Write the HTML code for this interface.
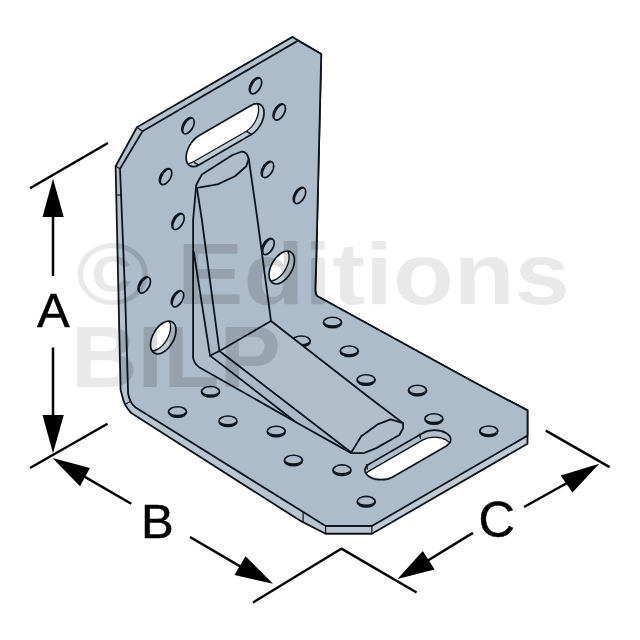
<!DOCTYPE html>
<html><head><meta charset="utf-8"><title>Angle bracket</title>
<style>
html,body{margin:0;padding:0;background:#fff;}
body{width:640px;height:640px;overflow:hidden;font-family:"Liberation Sans",sans-serif;}
svg{display:block;}
</style></head><body>
<svg width="640" height="640" viewBox="0 0 640 640">
<rect width="640" height="640" fill="#fff"/>
<defs>
<clipPath id="cb0"><circle r="14.7" transform="matrix(0.866 -0.5 0 1 163.25 337.5)"/></clipPath>
<clipPath id="cb1"><circle r="14.7" transform="matrix(0.866 -0.5 0 1 281.75 267.5)"/></clipPath>
<clipPath id="cs0"><rect x="-14.6" y="-14.6" width="89.9" height="29.2" rx="14.6" ry="14.6" transform="matrix(0.866 -0.5 0 1 198.8 150.3)" /></clipPath>
<clipPath id="cs1"><rect x="-13.3" y="-13.3" width="88.1" height="26.6" rx="13.3" ry="13.3" transform="matrix(0.866 -0.5 0.866 0.5 381.2 470.3)" /></clipPath>
<clipPath id="csil"><path d="M136.9,127.25 L292.5,36.9 L321.25,54 L316.25,260 L315.4,287.5 Q315,294 317.5,296.25 L470,380 L527.5,410.4 L527.5,443.75 L371.9,533.75 L325.6,533.75 L300,520.6 L131.25,413.1 Q127,408.5 125,404.4 Q123,400 122.3,396.25 L120.6,390 L115.6,166.25 Z"/></clipPath>
</defs>
<g id="bracket">
<path d="M136.9,127.25 L292.5,36.9 L321.25,54 L316.25,260 L315.4,287.5 Q315,294 317.5,296.25 L470,380 L527.5,410.4 L527.5,443.75 L371.9,533.75 L325.6,533.75 L300,520.6 L131.25,413.1 Q127,408.5 125,404.4 Q123,400 122.3,396.25 L120.6,390 L115.6,166.25 Z" fill="#b3c1cd"/>
<path d="M128.1,393.75 L130.6,401.25 L135.6,407.5 L300,510 L325.6,526 L371.9,526 L371.9,533.75 L325.6,533.75 L300,520.6 L131.25,413.1 L125,404.4 L122.3,396.25 L120.6,390 Z" fill="#b9c6d1"/>
<path d="M371.9,526 L527.5,435.6 L527.5,443.75 L371.9,533.75 Z" fill="#bfcad4"/>
<path d="M136.9,127.25 L292.5,36.9 L321.25,54 L316.25,260 L315.4,287.5 Q315,294 317.5,296.25 L470,380 L527.5,410.4 L527.5,443.75 L371.9,533.75 L325.6,533.75 L300,520.6 L131.25,413.1 Q127,408.5 125,404.4 Q123,400 122.3,396.25 L120.6,390 L115.6,166.25 Z" fill="none" stroke="#0d141c" stroke-width="1.8" stroke-linejoin="round"/>
<path d="M142.5,131.25 L298.1,40.6 L321.25,54 L316.25,260 L315.4,287.5 Q315,294 317.5,296.25 L470,380 L527.5,410.4 L527.5,435.6 L371.9,526 L325.6,526 L300,510 L135.6,407.5 Q132,404.5 130.6,401.25 Q128.8,397.5 128.1,393.75 L125.3,300 L120,168.75 Z" fill="#adbcca" stroke="#0d141c" stroke-width="1.8" stroke-linejoin="round"/>
<path d="M116.20,195.00 L121.00,195.00" fill="none" stroke="#0d141c" stroke-width="1.2"/>
<path d="M303.10,511.90 L303.10,522.80" fill="none" stroke="#0d141c" stroke-width="1.2"/>
<path d="M325.60,526.00 L325.60,533.75" fill="none" stroke="#0d141c" stroke-width="1.2"/>
<path d="M371.90,526.00 L371.90,533.75" fill="none" stroke="#0d141c" stroke-width="1.2"/>
<path d="M292.50,36.90 L298.10,40.60" fill="none" stroke="#0d141c" stroke-width="1.2"/>
<path d="M136.90,127.25 L142.50,131.25" fill="none" stroke="#0d141c" stroke-width="1.2"/>
<path d="M115.60,166.25 L120.00,168.75" fill="none" stroke="#0d141c" stroke-width="1.2"/>
<path d="M125.00,404.40 L130.60,401.25" fill="none" stroke="#0d141c" stroke-width="1.2"/>
<g transform="matrix(0.866 -0.5 0 1 188 125.75)"><circle r="7.2" fill="#adbcca" stroke="#0d141c" stroke-width="1.7" vector-effect="non-scaling-stroke"/><path d="M-3.88,6.07 A7.2,7.2 0 1 1 6.07,-3.88 A7.2,7.2 0 0 0 -3.88,6.07 Z" fill="#0d141c"/></g>
<g transform="matrix(0.866 -0.5 0 1 255.5 85.75)"><circle r="7.2" fill="#adbcca" stroke="#0d141c" stroke-width="1.7" vector-effect="non-scaling-stroke"/><path d="M-3.88,6.07 A7.2,7.2 0 1 1 6.07,-3.88 A7.2,7.2 0 0 0 -3.88,6.07 Z" fill="#0d141c"/></g>
<g transform="matrix(0.866 -0.5 0 1 279.25 112)"><circle r="7.2" fill="#adbcca" stroke="#0d141c" stroke-width="1.7" vector-effect="non-scaling-stroke"/><path d="M-3.88,6.07 A7.2,7.2 0 1 1 6.07,-3.88 A7.2,7.2 0 0 0 -3.88,6.07 Z" fill="#0d141c"/></g>
<g transform="matrix(0.866 -0.5 0 1 165.6 176.6)"><circle r="7.2" fill="#adbcca" stroke="#0d141c" stroke-width="1.7" vector-effect="non-scaling-stroke"/><path d="M-3.88,6.07 A7.2,7.2 0 1 1 6.07,-3.88 A7.2,7.2 0 0 0 -3.88,6.07 Z" fill="#0d141c"/></g>
<g transform="matrix(0.866 -0.5 0 1 267.5 169.5)"><circle r="7.2" fill="#adbcca" stroke="#0d141c" stroke-width="1.7" vector-effect="non-scaling-stroke"/><path d="M-3.88,6.07 A7.2,7.2 0 1 1 6.07,-3.88 A7.2,7.2 0 0 0 -3.88,6.07 Z" fill="#0d141c"/></g>
<g transform="matrix(0.866 -0.5 0 1 299.5 195.5)"><circle r="7.2" fill="#adbcca" stroke="#0d141c" stroke-width="1.7" vector-effect="non-scaling-stroke"/><path d="M-3.88,6.07 A7.2,7.2 0 1 1 6.07,-3.88 A7.2,7.2 0 0 0 -3.88,6.07 Z" fill="#0d141c"/></g>
<g transform="matrix(0.866 -0.5 0 1 178 221.5)"><circle r="7.2" fill="#adbcca" stroke="#0d141c" stroke-width="1.7" vector-effect="non-scaling-stroke"/><path d="M-3.88,6.07 A7.2,7.2 0 1 1 6.07,-3.88 A7.2,7.2 0 0 0 -3.88,6.07 Z" fill="#0d141c"/></g>
<g transform="matrix(0.866 -0.5 0 1 268 246.5)"><circle r="7.2" fill="#adbcca" stroke="#0d141c" stroke-width="1.7" vector-effect="non-scaling-stroke"/><path d="M-3.88,6.07 A7.2,7.2 0 1 1 6.07,-3.88 A7.2,7.2 0 0 0 -3.88,6.07 Z" fill="#0d141c"/></g>
<g transform="matrix(0.866 -0.5 0 1 144.25 285)"><circle r="7.2" fill="#adbcca" stroke="#0d141c" stroke-width="1.7" vector-effect="non-scaling-stroke"/><path d="M-3.88,6.07 A7.2,7.2 0 1 1 6.07,-3.88 A7.2,7.2 0 0 0 -3.88,6.07 Z" fill="#0d141c"/></g>
<g transform="matrix(0.866 -0.5 0 1 177.5 298.75)"><circle r="7.2" fill="#adbcca" stroke="#0d141c" stroke-width="1.7" vector-effect="non-scaling-stroke"/><path d="M-3.88,6.07 A7.2,7.2 0 1 1 6.07,-3.88 A7.2,7.2 0 0 0 -3.88,6.07 Z" fill="#0d141c"/></g>
<circle r="14.7" transform="matrix(0.866 -0.5 0 1 163.25 337.5)" fill="#c1cdd7"/>
<g clip-path="url(#cb0)"><circle r="14.7" transform="matrix(0.866 -0.5 0 1 157.88 334.4)" fill="#fff" stroke="#0d141c" stroke-width="1.3" vector-effect="non-scaling-stroke"/></g>
<circle r="14.7" transform="matrix(0.866 -0.5 0 1 163.25 337.5)" fill="none" stroke="#0d141c" stroke-width="1.7" vector-effect="non-scaling-stroke"/>
<circle r="14.7" transform="matrix(0.866 -0.5 0 1 281.75 267.5)" fill="#c1cdd7"/>
<g clip-path="url(#cb1)"><circle r="14.7" transform="matrix(0.866 -0.5 0 1 276.38 264.4)" fill="#fff" stroke="#0d141c" stroke-width="1.3" vector-effect="non-scaling-stroke"/></g>
<circle r="14.7" transform="matrix(0.866 -0.5 0 1 281.75 267.5)" fill="none" stroke="#0d141c" stroke-width="1.7" vector-effect="non-scaling-stroke"/>
<rect x="-14.6" y="-14.6" width="89.9" height="29.2" rx="14.6" ry="14.6" transform="matrix(0.866 -0.5 0 1 198.8 150.3)" fill="#c1cdd7"/>
<g clip-path="url(#cs0)"><rect x="-14.6" y="-14.6" width="89.9" height="29.2" rx="14.6" ry="14.6" transform="matrix(0.866 -0.5 0 1 193.43 147.20000000000002)" fill="#fff" stroke="#0d141c" stroke-width="1.3" vector-effect="non-scaling-stroke"/></g>
<rect x="-14.6" y="-14.6" width="89.9" height="29.2" rx="14.6" ry="14.6" transform="matrix(0.866 -0.5 0 1 198.8 150.3)" fill="none" stroke="#0d141c" stroke-width="1.7" vector-effect="non-scaling-stroke"/>
<path d="M194.00,162.30 l5,2.9" stroke="#0d141c" stroke-width="1.4" fill="none"/>
<path d="M246.30,131.30 l5,2.9" stroke="#0d141c" stroke-width="1.4" fill="none"/>
<g transform="matrix(0.866 -0.5 0.866 0.5 210.5 391.75)"><circle r="7.4" fill="#adbcca" stroke="#0d141c" stroke-width="1.7" vector-effect="non-scaling-stroke"/><path d="M6.29,3.89 A7.4,7.4 0 1 1 -3.89,-6.29 A7.4,7.4 0 0 0 6.29,3.89 Z" fill="#0d141c"/></g>
<g transform="matrix(0.866 -0.5 0.866 0.5 177.5 412)"><circle r="7.4" fill="#adbcca" stroke="#0d141c" stroke-width="1.7" vector-effect="non-scaling-stroke"/><path d="M6.29,3.89 A7.4,7.4 0 1 1 -3.89,-6.29 A7.4,7.4 0 0 0 6.29,3.89 Z" fill="#0d141c"/></g>
<g transform="matrix(0.866 -0.5 0.866 0.5 228 421.25)"><circle r="7.4" fill="#adbcca" stroke="#0d141c" stroke-width="1.7" vector-effect="non-scaling-stroke"/><path d="M6.29,3.89 A7.4,7.4 0 1 1 -3.89,-6.29 A7.4,7.4 0 0 0 6.29,3.89 Z" fill="#0d141c"/></g>
<g transform="matrix(0.866 -0.5 0.866 0.5 276.25 431.5)"><circle r="7.4" fill="#adbcca" stroke="#0d141c" stroke-width="1.7" vector-effect="non-scaling-stroke"/><path d="M6.29,3.89 A7.4,7.4 0 1 1 -3.89,-6.29 A7.4,7.4 0 0 0 6.29,3.89 Z" fill="#0d141c"/></g>
<g transform="matrix(0.866 -0.5 0.866 0.5 293.4 460.5)"><circle r="7.4" fill="#adbcca" stroke="#0d141c" stroke-width="1.7" vector-effect="non-scaling-stroke"/><path d="M6.29,3.89 A7.4,7.4 0 1 1 -3.89,-6.29 A7.4,7.4 0 0 0 6.29,3.89 Z" fill="#0d141c"/></g>
<g transform="matrix(0.866 -0.5 0.866 0.5 342 470.2)"><circle r="7.4" fill="#adbcca" stroke="#0d141c" stroke-width="1.7" vector-effect="non-scaling-stroke"/><path d="M6.29,3.89 A7.4,7.4 0 1 1 -3.89,-6.29 A7.4,7.4 0 0 0 6.29,3.89 Z" fill="#0d141c"/></g>
<g transform="matrix(0.866 -0.5 0.866 0.5 366.25 501.7)"><circle r="7.4" fill="#adbcca" stroke="#0d141c" stroke-width="1.7" vector-effect="non-scaling-stroke"/><path d="M6.29,3.89 A7.4,7.4 0 1 1 -3.89,-6.29 A7.4,7.4 0 0 0 6.29,3.89 Z" fill="#0d141c"/></g>
<g transform="matrix(0.866 -0.5 0.866 0.5 332.5 322.5)"><circle r="7.4" fill="#adbcca" stroke="#0d141c" stroke-width="1.7" vector-effect="non-scaling-stroke"/><path d="M6.29,3.89 A7.4,7.4 0 1 1 -3.89,-6.29 A7.4,7.4 0 0 0 6.29,3.89 Z" fill="#0d141c"/></g>
<g transform="matrix(0.866 -0.5 0.866 0.5 349.25 351.25)"><circle r="7.4" fill="#adbcca" stroke="#0d141c" stroke-width="1.7" vector-effect="non-scaling-stroke"/><path d="M6.29,3.89 A7.4,7.4 0 1 1 -3.89,-6.29 A7.4,7.4 0 0 0 6.29,3.89 Z" fill="#0d141c"/></g>
<g transform="matrix(0.866 -0.5 0.866 0.5 301.25 341.25)"><circle r="7.4" fill="#adbcca" stroke="#0d141c" stroke-width="1.7" vector-effect="non-scaling-stroke"/><path d="M6.29,3.89 A7.4,7.4 0 1 1 -3.89,-6.29 A7.4,7.4 0 0 0 6.29,3.89 Z" fill="#0d141c"/></g>
<g transform="matrix(0.866 -0.5 0.866 0.5 366.1 380)"><circle r="7.4" fill="#adbcca" stroke="#0d141c" stroke-width="1.7" vector-effect="non-scaling-stroke"/><path d="M6.29,3.89 A7.4,7.4 0 1 1 -3.89,-6.29 A7.4,7.4 0 0 0 6.29,3.89 Z" fill="#0d141c"/></g>
<g transform="matrix(0.866 -0.5 0.866 0.5 417.5 390.5)"><circle r="7.4" fill="#adbcca" stroke="#0d141c" stroke-width="1.7" vector-effect="non-scaling-stroke"/><path d="M6.29,3.89 A7.4,7.4 0 1 1 -3.89,-6.29 A7.4,7.4 0 0 0 6.29,3.89 Z" fill="#0d141c"/></g>
<g transform="matrix(0.866 -0.5 0.866 0.5 433.9 419)"><circle r="7.4" fill="#adbcca" stroke="#0d141c" stroke-width="1.7" vector-effect="non-scaling-stroke"/><path d="M6.29,3.89 A7.4,7.4 0 1 1 -3.89,-6.29 A7.4,7.4 0 0 0 6.29,3.89 Z" fill="#0d141c"/></g>
<g transform="matrix(0.866 -0.5 0.866 0.5 488.75 431.25)"><circle r="7.4" fill="#adbcca" stroke="#0d141c" stroke-width="1.7" vector-effect="non-scaling-stroke"/><path d="M6.29,3.89 A7.4,7.4 0 1 1 -3.89,-6.29 A7.4,7.4 0 0 0 6.29,3.89 Z" fill="#0d141c"/></g>
<rect x="-13.3" y="-13.3" width="88.1" height="26.6" rx="13.3" ry="13.3" transform="matrix(0.866 -0.5 0.866 0.5 381.2 470.3)" fill="#b1bfcb"/>
<g clip-path="url(#cs1)"><rect x="-13.3" y="-13.3" width="88.1" height="26.6" rx="13.3" ry="13.3" transform="matrix(0.866 -0.5 0.866 0.5 381.2 477.3)" fill="#fff" stroke="#0d141c" stroke-width="1.3" vector-effect="non-scaling-stroke"/></g>
<rect x="-13.3" y="-13.3" width="88.1" height="26.6" rx="13.3" ry="13.3" transform="matrix(0.866 -0.5 0.866 0.5 381.2 470.3)" fill="none" stroke="#0d141c" stroke-width="1.7" vector-effect="non-scaling-stroke"/>
<path d="M366.50,464.00 l0.9,5.6" stroke="#0d141c" stroke-width="1.4" fill="none"/>
<path d="M419.60,433.60 l0.9,5.6" stroke="#0d141c" stroke-width="1.4" fill="none"/>
<path d="M196.25,185 L201.9,174.4 L232.5,155 L241.9,151.5 Q247,152 248.75,158.75 L257.5,220 L271,321 L372.5,400 L403.1,423.1 L403.1,428.1 L399.4,435 L376.25,448.1 L363.75,453.1 L351.25,453.1 L296,422.2 L198.75,367 Q193.6,362.5 193.1,357.5 L193.1,220 Z" fill="#adbcca" stroke="none"/>
<path d="M193.75,252.00 L210.00,355.60 L296.00,422.20 L198.75,367.00 L193.10,357.50 L193.10,290.00" fill="#afbdca"/>
<path d="M196.90,188.00 L219.40,351.00 L351.25,452.50 L296.00,422.20 L210.00,355.60 L193.75,252.00 L193.10,220.00" fill="#aab9c7"/>
<path d="M219.4,351 L271,321 L403.1,423.1 L390.6,419.4 L377.5,424.4 L361.25,436.25 L351.25,452.5 Z" fill="#b0beca"/>
<path d="M403.1,423.1 L403.1,428.1 L399.4,435 L376.25,448.1 L363.75,453.1 L351.25,453.1 L361.25,436.25 L377.5,424.4 L390.6,419.4 Z" fill="#afbdca"/>
<path d="M196.25,185 L201.9,174.4 L232.5,155 L241.9,151.5 Q247,152 248.75,158.75 L246.25,166.25 L235,176.25 L217.5,184.4 L196.9,187.8 Z" fill="#afbdca"/>
<path d="M196.25,185 L201.9,174.4 L232.5,155 L241.9,151.5 Q247,152 248.75,158.75 L257.5,220 L271,321 L372.5,400 L403.1,423.1 L403.1,428.1 L399.4,435 L376.25,448.1 L363.75,453.1 L351.25,453.1 L296,422.2 L198.75,367 Q193.6,362.5 193.1,357.5 L193.1,220 Z" fill="none" stroke="#0d141c" stroke-width="1.8" stroke-linejoin="round" stroke-linecap="round"/>
<path d="M196.9,187.8 L217.5,184.4 L235,176.25 L246.25,166.25 L248.75,158.75" fill="none" stroke="#0d141c" stroke-width="1.8" stroke-linejoin="round" stroke-linecap="round"/>
<path d="M196.9,187.8 L201.9,220 L219.4,351 L351.25,452.5" fill="none" stroke="#0d141c" stroke-width="1.8" stroke-linejoin="round" stroke-linecap="round"/>
<path d="M193.75,252 L210,355.6 L296,422.2" fill="none" stroke="#0d141c" stroke-width="1.8" stroke-linejoin="round" stroke-linecap="round"/>
<path d="M210,355.6 L219.4,351 L271,321" fill="none" stroke="#0d141c" stroke-width="1.8" stroke-linejoin="round" stroke-linecap="round"/>
<path d="M351.25,452.5 L361.25,436.25 L377.5,424.4 L390.6,419.4 L403.1,423.1" fill="none" stroke="#0d141c" stroke-width="1.8" stroke-linejoin="round" stroke-linecap="round"/>
</g>
<g id="dims">
<path d="M30.00,188.25 L108.00,143.00" stroke="#000" stroke-width="2.5" fill="none"/>
<path d="M30.00,468.00 L107.50,423.75" stroke="#000" stroke-width="2.5" fill="none"/>
<path d="M253.00,602.50 L341.25,548.75" stroke="#000" stroke-width="2.5" fill="none"/>
<path d="M341.00,548.30 L416.60,592.50" stroke="#000" stroke-width="2.5" fill="none"/>
<path d="M545.80,430.60 L609.60,467.20" stroke="#000" stroke-width="2.5" fill="none"/>
<path d="M53.00,178.75 L42.50,217.00 L63.75,217.00 Z" fill="#000"/>
<path d="M53.00,216.00 L53.00,276.00" stroke="#000" stroke-width="2.5" fill="none"/>
<path d="M53.00,453.25 L42.50,415.00 L63.75,415.00 Z" fill="#000"/>
<path d="M53.00,347.50 L53.00,416.00" stroke="#000" stroke-width="2.5" fill="none"/>
<path d="M52.50,458.00 L90.00,468.00 L80.00,486.25 Z" fill="#000"/>
<path d="M84.00,476.40 L131.25,503.75" stroke="#000" stroke-width="2.5" fill="none"/>
<path d="M273.00,583.75 L245.50,556.25 L234.50,575.00 Z" fill="#000"/>
<path d="M190.00,537.00 L241.00,566.80" stroke="#000" stroke-width="2.5" fill="none"/>
<path d="M397.50,579.00 L422.80,550.90 L434.60,569.40 Z" fill="#000"/>
<path d="M427.50,560.80 L472.90,532.90" stroke="#000" stroke-width="2.5" fill="none"/>
<path d="M599.20,463.80 L560.70,475.60 L572.50,492.50 Z" fill="#000"/>
<path d="M524.00,507.00 L568.00,482.50" stroke="#000" stroke-width="2.5" fill="none"/>
<g font-family="'Liberation Sans', sans-serif" fill="#000" stroke="#000" stroke-width="0.5" stroke-linejoin="round"><text x="36.90" y="327" font-size="49">A</text><text x="140.98" y="537.8" font-size="49">B</text><text x="478.44" y="537.2" font-size="50.5">C</text></g>
</g>
<g font-family="'Liberation Sans', sans-serif" font-weight="bold" font-size="86.6" fill="#000" fill-opacity="0.088"><text x="76" y="304" textLength="494" lengthAdjust="spacingAndGlyphs">© Editions</text><text x="71" y="387" textLength="210" lengthAdjust="spacingAndGlyphs">BILP</text></g>
<g clip-path="url(#csil)"><g font-family="'Liberation Sans', sans-serif" font-weight="bold" font-size="86.6" fill="#000" fill-opacity="0.055"><text x="76" y="304" textLength="494" lengthAdjust="spacingAndGlyphs">© Editions</text><text x="71" y="387" textLength="210" lengthAdjust="spacingAndGlyphs">BILP</text></g></g>
</svg>
</body></html>
